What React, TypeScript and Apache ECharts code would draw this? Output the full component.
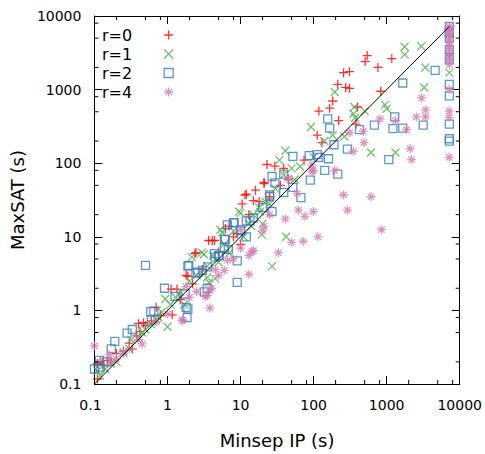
import React, { useEffect, useRef } from 'react';
import * as echarts from 'echarts';

const X_MIN = 0.1;
const X_MAX = 10000;
const Y_MIN = 0.1;
const Y_MAX = 10000;

const xTickLabels = ['0.1', '1', '10', '100', '1000', '10000'];
const yTickLabels = ['0.1', '1', '10', '100', '1000', '10000'];
const xMinorTicks = [0.2, 0.5, 0.8, 2, 5, 8, 20, 50, 80, 200, 500, 800, 2000, 5000, 8000];
const yMinorTicks = [0.2, 0.5, 0.8, 2, 5, 8, 20, 50, 80, 200, 500, 800, 2000, 5000, 8000];

const seriesNames = ['r=0', 'r=1', 'r=2', 'r=4'];
const seriesColors = ['#ff0000', '#4daf4a', '#377eb8', '#d07cb2'];

const diagonal: [number, number][] = [[0.1, 0.1], [7200, 7200]];

const r0: [number, number][] = [
  [0.11, 0.117], [0.11, 0.19], [0.12, 0.2], [0.13, 0.18], [0.15, 0.21], [0.17, 0.2], [0.2, 0.26],
  [0.25, 0.28], [0.3, 0.36], [0.33, 0.3], [0.38, 0.45], [0.4, 0.66], [0.42, 0.52], [0.47, 0.68],
  [0.5, 0.62], [0.6, 0.72], [0.7, 1.1], [0.8, 0.85], [1.12, 1.95], [1.16, 0.87], [1.35, 1.95],
  [1.5, 1.4], [1.8, 3.0], [1.9, 2.9], [2.2, 2.3], [2.37, 5.9], [2.45, 6.1], [3.0, 3.6], [3.65, 8.9],
  [4.1, 8.9], [4.4, 8.9], [5, 6.2], [6.2, 13], [7, 14], [8, 10], [9, 11], [10, 7.9], [10.5, 28],
  [11.5, 37], [12, 38], [13, 20], [15, 31], [16, 43], [18, 30], [21, 53], [21, 55], [23, 96],
  [25, 35], [29.5, 91], [35, 50], [39, 85], [45, 60], [74, 110], [112, 240], [118, 510], [130, 190],
  [166, 560], [182, 700], [214, 1180], [220, 380], [257, 1700], [275, 1070], [310, 1750],
  [310, 1040], [380, 340], [400, 580], [508, 2400], [541, 2900], [760, 2000], [830, 950],
  [1175, 2640],
];

const r1: [number, number][] = [
  [0.11, 0.15], [0.12, 0.13], [0.14, 0.16], [0.17, 0.19], [0.2, 0.2], [0.25, 0.27], [0.3, 0.3],
  [0.32, 0.4], [0.4, 0.43], [0.45, 0.5], [0.5, 0.55], [0.6, 0.65], [0.7, 0.75], [0.75, 0.8],
  [0.83, 0.96], [0.93, 1.43], [1.0, 0.6], [1.1, 1.2], [1.3, 1.5], [1.5, 1.8], [1.7, 1.2], [2.0, 2.5],
  [2.15, 5.3], [2.5, 3.0], [2.95, 6.1], [3.15, 5.8], [3.5, 2.8], [3.5, 4], [3.7, 2.4], [4.2, 5.5],
  [4.5, 2.7], [5, 4.5], [5.3, 12.5], [5.6, 11.5], [6, 8], [7, 6], [8, 12], [9.5, 22], [10, 21],
  [11, 10], [13, 15], [14, 14], [15, 20], [18, 25], [18.5, 22], [19.5, 10.7], [20, 15], [22, 30],
  [25, 28], [27, 4.0], [30, 45], [34, 110], [39, 69], [41, 148], [42, 10], [50, 85], [55, 60],
  [65, 90], [92, 310], [100, 120], [140, 200], [182, 240], [195, 930], [263, 230], [350, 470],
  [360, 580], [370, 415], [500, 510], [610, 140], [950, 620], [1000, 550], [1320, 140],
  [1760, 3830], [1760, 2990], [2980, 3880], [3270, 1070], [3380, 2000], [7200, 2800], [7200, 1700],
];

const r2: [number, number][] = [
  [0.1, 0.16], [0.117, 0.21], [0.12, 0.17], [0.145, 0.2], [0.17, 0.3], [0.19, 0.38], [0.28, 0.49],
  [0.33, 0.55], [0.5, 4.1], [0.59, 0.96], [0.6, 0.74], [0.65, 0.98], [0.91, 2.0], [1.27, 1.55],
  [1.74, 1.67], [1.8, 1.1], [1.85, 0.8], [1.9, 1.05], [1.9, 4.0], [1.96, 4.1], [2.45, 3.2],
  [2.6, 3.3], [3, 3.5], [3.2, 1.78], [3.5, 2.0], [3.55, 3.9], [4.4, 5.9], [4.5, 5.3], [5, 5.5],
  [5.1, 5.6], [6, 7], [6, 9.2], [6.2, 9.2], [6.6, 14.5], [6.8, 6.7], [8, 15.5], [8.2, 15.6],
  [9, 4.7], [9, 2.4], [10, 12], [10, 12.5], [12, 10], [12, 16.5], [13.5, 16.5], [15, 18], [20, 25],
  [25, 35], [25, 37], [27, 22], [27, 66], [29.5, 54], [39, 40], [39, 71], [52, 124], [52, 47],
  [67, 34], [87, 127], [90, 59], [112, 131], [118, 120], [142, 80], [156, 400], [160, 115],
  [166, 300], [190, 178], [214, 71], [290, 155], [425, 285], [680, 330], [1070, 112], [1220, 295],
  [1290, 425], [1660, 1230], [1660, 300], [3160, 330], [4600, 1830], [7200, 7200], [7200, 6000],
  [7200, 5000], [7200, 3500], [7200, 2600], [7200, 1180], [7200, 820], [7200, 340], [7200, 215],
  [7200, 200],
];

const r4: [number, number][] = [
  [0.1, 0.33], [0.16, 0.25], [0.17, 0.2], [0.2, 0.22], [0.25, 0.26], [0.3, 0.3], [0.4, 0.4],
  [0.45, 0.35], [0.7, 0.7], [1.0, 0.9], [1.58, 0.73], [1.63, 0.74], [1.8, 2.1], [2, 1.5], [2.5, 1.8],
  [3.3, 1.55], [3.5, 1.6], [3.8, 1.08], [3.8, 1.9], [4, 2], [4.5, 3.6], [5, 3], [6, 3.5], [6.6, 4.8],
  [8, 5], [10, 7], [10, 12.5], [13, 3.1], [13, 5.6], [14.3, 6.3], [15, 6.5], [20, 12], [21, 14],
  [25, 20], [33, 6.1], [41, 17.5], [46, 62], [50, 8.4], [60, 39], [62, 23], [72, 8.7], [76, 19],
  [95, 94], [95, 77], [99, 22], [99, 80], [115, 10], [195, 80], [257, 37], [310, 260], [290, 23],
  [350, 145], [480, 270], [490, 190], [610, 35], [850, 12.5], [810, 400], [1320, 380], [1870, 285],
  [2090, 158], [2190, 112], [2550, 425], [3000, 770], [3400, 425], [3400, 530], [7200, 7200],
  [7200, 6800], [7200, 6400], [7200, 6000], [7200, 5500], [7200, 5000], [7200, 4500], [7200, 4000],
  [7200, 3600], [7200, 3200], [7200, 2800], [7200, 2500], [7200, 2200], [7200, 1000], [7200, 510],
  [7200, 420], [7200, 120],
];

const seriesData = [r0, r1, r2, r4];

const FONT = 'DejaVu Sans';

const SYM_PLUS = 'path://M0,5L10,5M5,0L5,10';
const SYM_CROSS = 'path://M0,0L10,10M10,0L0,10';
const SYM_SQUARE = 'rect';
const SYM_STAR = 'path://M0,5L10,5M5,0L5,10M1.5,1.5L8.5,8.5M8.5,1.5L1.5,8.5';
const symbols = [SYM_PLUS, SYM_CROSS, SYM_SQUARE, SYM_STAR];
const symbolSizes = [9, 8, 8, 9];

function findLabel(list: string[], v: number) {
  return list.find((l) => Math.abs(Math.log10(Number(l)) - Math.log10(v)) < 1e-6) ?? '';
}

export default function App() {
  const ref = useRef<HTMLDivElement>(null);

  useEffect(() => {
    if (!ref.current) return;
    const chart = echarts.init(ref.current, null, { renderer: 'svg' });

    const axisLine = { show: true, onZero: false, lineStyle: { color: '#000', width: 1 } };
    const majorTick = { show: true, inside: true, length: 8, lineStyle: { color: '#000', width: 1 } };

    const option: any = {
      animation: false,
      grid: { left: 90, top: 16, width: 371, height: 372, containLabel: false },
      legend: {
        data: seriesNames.map((n, i) => ({ name: n, icon: symbols[i] })),
        orient: 'vertical',
        left: 102,
        top: 27,
        padding: 0,
        align: 'right',
        itemWidth: 9,
        itemHeight: 9,
        itemGap: 3,
        selectedMode: false,
        textStyle: {
          fontFamily: FONT,
          fontSize: 16,
          lineHeight: 16,
          color: '#000',
          padding: [0, 27, 0, 0],
        },
        itemStyle: { borderWidth: 1.3 },
      },
      xAxis: [
        {
          type: 'log',
          logBase: 10,
          min: X_MIN,
          max: X_MAX,
          position: 'bottom',
          name: 'Minsep IP (s)',
          nameLocation: 'middle',
          nameGap: 47,
          nameTextStyle: { fontFamily: FONT, fontSize: 18, color: '#000' },
          axisLine,
          axisTick: majorTick,
          axisLabel: {
            fontFamily: FONT,
            fontSize: 14,
            color: '#000',
            margin: 14,
            formatter: (v: number) => {
              const l = findLabel(xTickLabels, v);
              return l === xTickLabels[0] ? '{first|' + l + '}' : l;
            },
            rich: {
              first: { fontFamily: FONT, fontSize: 14, color: '#000', padding: [0, 8, 0, 0] },
            },
          },
          splitLine: { show: false },
          minorTick: { show: false },
        },
        {
          type: 'log',
          logBase: 10,
          min: X_MIN,
          max: X_MAX,
          position: 'top',
          axisLine,
          axisTick: majorTick,
          axisLabel: { show: false },
          splitLine: { show: false },
        },
      ],
      yAxis: [
        {
          type: 'log',
          logBase: 10,
          min: Y_MIN,
          max: Y_MAX,
          position: 'left',
          name: 'MaxSAT (s)',
          nameLocation: 'middle',
          nameGap: 63,
          nameTextStyle: { fontFamily: FONT, fontSize: 18, color: '#000' },
          axisLine,
          axisTick: majorTick,
          axisLabel: {
            fontFamily: FONT,
            fontSize: 14,
            color: '#000',
            margin: 13,
            formatter: (v: number) => findLabel(yTickLabels, v),
          },
          splitLine: { show: false },
          minorTick: { show: false },
        },
        {
          type: 'log',
          logBase: 10,
          min: Y_MIN,
          max: Y_MAX,
          position: 'right',
          axisLine,
          axisTick: majorTick,
          axisLabel: { show: false },
          splitLine: { show: false },
        },
      ],
      series: [
        ...seriesData.map((d, i) => ({
          name: seriesNames[i],
          type: 'scatter',
          data: d,
          symbol: symbols[i],
          symbolSize: symbolSizes[i],
          itemStyle: { color: 'rgba(0,0,0,0)', borderColor: seriesColors[i], borderWidth: 1.3 },
          emphasis: { disabled: true },
          z: 2,
        })),
        {
          name: 'diagonal',
          type: 'line',
          data: diagonal,
          symbol: 'none',
          lineStyle: { color: '#000', width: 1 },
          silent: true,
          z: 3,
        },
        {
          name: 'xminor',
          type: 'custom',
          silent: true,
          data: xMinorTicks.map((v) => [v, 1]),
          renderItem: (_p: any, api: any) => {
            const v = api.value(0);
            const b = api.coord([v, Y_MIN]);
            const t = api.coord([v, Y_MAX]);
            return {
              type: 'group',
              children: [
                { type: 'line', shape: { x1: b[0], y1: b[1], x2: b[0], y2: b[1] - 4 }, style: { stroke: '#000', lineWidth: 1 } },
                { type: 'line', shape: { x1: t[0], y1: t[1], x2: t[0], y2: t[1] + 4 }, style: { stroke: '#000', lineWidth: 1 } },
              ],
            };
          },
          z: 4,
        },
        {
          name: 'yminor',
          type: 'custom',
          silent: true,
          data: yMinorTicks.map((v) => [1, v]),
          renderItem: (_p: any, api: any) => {
            const v = api.value(1);
            const l = api.coord([X_MIN, v]);
            const r = api.coord([X_MAX, v]);
            return {
              type: 'group',
              children: [
                { type: 'line', shape: { x1: l[0], y1: l[1], x2: l[0] + 4, y2: l[1] }, style: { stroke: '#000', lineWidth: 1 } },
                { type: 'line', shape: { x1: r[0], y1: r[1], x2: r[0] - 4, y2: r[1] }, style: { stroke: '#000', lineWidth: 1 } },
              ],
            };
          },
          z: 4,
        },
      ],
    };

    chart.setOption(option);
    return () => chart.dispose();
  }, []);

  return (
    <div
      ref={ref}
      style={{ position: 'absolute', left: 0, top: 0, width: 485, height: 454 }}
    />
  );
}
